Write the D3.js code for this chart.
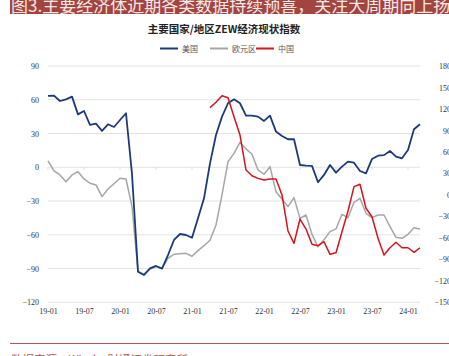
<!DOCTYPE html>
<html><head><meta charset="utf-8">
<script src="https://cdn.jsdelivr.net/npm/d3@7"></script>
<style>
html,body{margin:0;padding:0;background:#fff;}
svg{display:block;}
</style>
</head><body>
<svg id="c" width="449" height="356"></svg>
<script>
// ---- data ----
const tickLabels = ["19-01","19-07","20-01","20-07","21-01","21-07","22-01","22-07","23-01","23-07","24-01"];
const leftTicks = [90,60,30,0,-30,-60,-90,-120];
const rightTicks = [180,150,120,90,60,30,0,-30,-60,-90,-120,-150];
const usValues = [63.4,63.7,58.9,60.4,62.8,47,50,37.6,38.8,32.3,38.2,35.8,42,48,-6,-92.8,-95.7,-89.8,-87.7,-90.1,-78,-64.6,-59.3,-60.2,-62.6,-45.4,-27.6,3.5,28.7,45,56.9,60.4,56.9,45.9,45.9,45,41.2,45.9,31.7,27.8,24.9,24.9,2,1.5,1.2,-13.3,-6.8,2,-4.8,0.6,5,4.1,-3.3,-5.4,7.4,10.3,10.8,14.5,9.4,8,15.4,33.8,38.2];
const euroValues = [5.6,-3.3,-6.8,-12.8,-6.8,-3.9,-10.4,-14.2,-15.7,-26.1,-19.3,-14.6,-9.8,-10.4,-35,-92.5,-95.3,-90.4,-88.3,-89.8,-80.9,-77.3,-76.8,-76.5,-79.1,-74.1,-69.7,-64.9,-51.3,-24.6,5,12.4,22.2,16.3,11.6,-2.4,-6.2,0.6,-21.7,-28.2,-35,-27,-45.4,-42.4,-59.6,-70.6,-64.5,-57.2,-54.8,-41.8,-44.8,-31.1,-27.6,-40.9,-44.8,-42.4,-42.4,-52.8,-62.2,-63.1,-59.6,-53.7,-54.8];
const chinaValues = [null,null,null,null,null,null,null,null,null,null,null,null,null,null,null,null,null,null,null,null,null,null,null,null,null,null,null,121.8,129.3,138.5,135.7,109,83.6,34.7,26.8,23.1,20.7,22.1,22.1,0,-50.4,-67.6,-33.7,-47.7,-69,-71,-65.4,-83,-80.8,-51.4,-22.5,11.5,14.8,-18.7,-30.5,-60.6,-84,-73.8,-66.2,-73.8,-73.8,-80.2,-73.8];
const seriesNames = ["美国","欧元区","中国"];
// months 19-01 .. 24-03
const months = d3.utcMonths(new Date(Date.UTC(2019,0,1)), new Date(Date.UTC(2024,3,1))).map(d3.utcFormat("%y-%m"));

// ---- layout ----
const svg = d3.select("#c");
const L = 48, R = 420, T = 66, B = 302.3;
const x = d3.scalePoint().domain(months).range([L, R]);
const yL = d3.scaleLinear().domain([-120, 90]).range([B, T]);
const yR = d3.scaleLinear().domain([-150, 180]).range([B, T]);
const colors = ["#1c3a7a", "#a6a6a6", "#d6141b"];

// banner
svg.append("rect").attr("x", 10).attr("y", 0).attr("width", 439).attr("height", 14).attr("fill", "#a2453f");
svg.append("text").attr("x", 11).attr("y", 12).attr("fill", "#f6e8e6")
  .attr("font-family", "'Noto Sans CJK SC', sans-serif").attr("font-size", 17)
  .text("图3.主要经济体近期各类数据持续预喜，关注大周期向上扬");

// title
svg.append("text").attr("x", 224).attr("y", 33).attr("text-anchor", "middle")
  .attr("font-family", "'Noto Sans CJK SC', sans-serif").attr("font-weight", "bold")
  .attr("font-size", 10.5).attr("fill", "#222").text("主要国家/地区ZEW经济现状指数");

// legend
const legX = [160, 210, 256];
seriesNames.forEach((n, i) => {
  svg.append("line").attr("x1", legX[i]).attr("x2", legX[i] + 18).attr("y1", 48.5).attr("y2", 48.5)
    .attr("stroke", colors[i]).attr("stroke-width", 2);
  svg.append("text").attr("x", legX[i] + 22).attr("y", 51.5)
    .attr("font-family", "'Noto Sans CJK SC', sans-serif").attr("font-size", 8).attr("fill", "#555").text(n);
});

// gridlines
svg.append("g").selectAll("line").data(leftTicks).join("line")
  .attr("x1", L).attr("x2", R).attr("y1", d => yL(d)).attr("y2", d => yL(d))
  .attr("stroke", "#e3e3e3").attr("stroke-width", 1);

// left axis
const axL = svg.append("g").attr("transform", `translate(${L - 7},0)`)
  .call(d3.axisLeft(yL).tickValues(leftTicks).tickSize(0).tickPadding(2));
axL.select(".domain").remove();
axL.selectAll("text").attr("font-family", "'Liberation Serif', serif").attr("font-size", 8).attr("fill", "#333");

// right axis
const axR = svg.append("g").attr("transform", `translate(451,0)`)
  .call(d3.axisLeft(yR).tickValues(rightTicks).tickSize(0).tickPadding(0));
axR.select(".domain").remove();
axR.selectAll("text").attr("font-family", "'Liberation Serif', serif").attr("font-size", 8).attr("fill", "#333");

// x axis tick marks on zero line
svg.append("g").selectAll("line").data(tickLabels).join("line")
  .attr("x1", d => x(d)).attr("x2", d => x(d)).attr("y1", yL(0)).attr("y2", yL(0) + 2.5)
  .attr("stroke", "#d9d9d9").attr("stroke-width", 1);

// x axis labels at bottom
const axX = svg.append("g").attr("transform", `translate(0,${B})`)
  .call(d3.axisBottom(x).tickValues(tickLabels).tickSize(0).tickPadding(6));
axX.select(".domain").remove();
axX.selectAll("text").attr("font-family", "'Liberation Serif', serif").attr("font-size", 8).attr("fill", "#333");

// lines
const mk = (ys) => d3.line().defined(d => d[1] != null).x(d => x(d[0])).y(d => ys(d[1]));
const sets = [[usValues, yL], [euroValues, yL], [chinaValues, yR]];
[1, 0, 2].forEach(i => {
  const [vals, ys] = sets[i];
  const pts = months.map((m, k) => [m, vals[k]]);
  svg.append("path").datum(pts).attr("d", mk(ys)).attr("fill", "none")
    .attr("stroke", colors[i]).attr("stroke-width", i === 0 ? 1.8 : 1.5).attr("stroke-linejoin", "round");
});

// source
svg.append("line").attr("x1", 10).attr("x2", 449).attr("y1", 343.5).attr("y2", 343.5)
  .attr("stroke", "#b8554d").attr("stroke-width", 1);
svg.append("text").attr("x", 11).attr("y", 363.5).attr("fill", "#b8554d")
  .attr("font-family", "'Noto Sans CJK SC', sans-serif").attr("font-size", 11.5)
  .text("数据来源：Wind，财通证券研究所");
</script>
</body></html>
